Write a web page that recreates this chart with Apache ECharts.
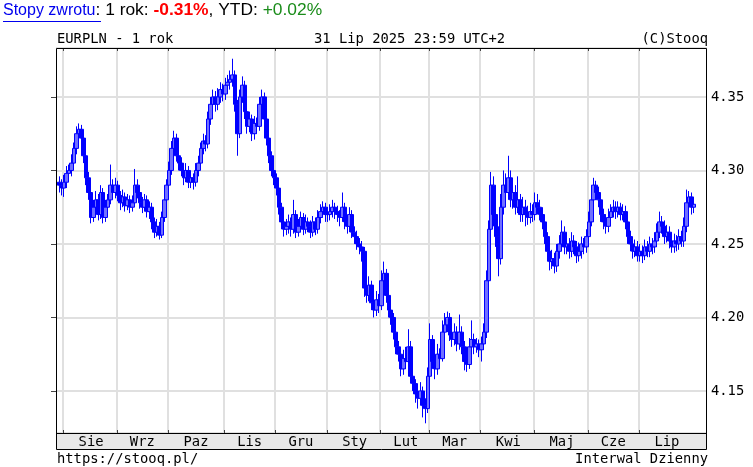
<!DOCTYPE html>
<html><head><meta charset="utf-8">
<script src="https://cdn.jsdelivr.net/npm/echarts@6/dist/echarts.min.js"></script>
<style>html,body{margin:0;padding:0;background:#fff}#c{width:753px;height:467px}</style>
</head><body><div id="c"></div>
<script>
// Month names (Polish abbreviations) and number of trading days per month in the window
const monthNames = ['Lip','Sie','Wrz','Paz','Lis','Gru','Sty','Lut','Mar','Kwi','Maj','Cze','Lip'];
const monthDays  = [2,22,21,23,21,21,22,20,21,22,22,21,23];

const openV = [
4.292,4.290,4.288,4.292,4.298,4.300,4.305,4.315,4.325,4.328,
4.322,4.310,4.295,4.285,4.268,4.275,4.280,4.270,4.285,4.268,
4.275,4.280,4.290,4.285,4.290,4.283,4.278,4.282,4.276,4.280,
4.275,4.278,4.290,4.285,4.278,4.275,4.280,4.272,4.275,4.265,
4.258,4.262,4.256,4.268,4.280,4.290,4.300,4.315,4.322,4.310,
4.305,4.300,4.295,4.300,4.292,4.295,4.292,4.300,4.305,4.315,
4.320,4.318,4.335,4.345,4.350,4.345,4.350,4.355,4.352,4.358,
4.360,4.362,4.365,4.345,4.325,4.350,4.358,4.340,4.330,4.335,
4.325,4.332,4.330,4.345,4.350,4.335,4.322,4.310,4.300,4.295,
4.288,4.275,4.265,4.260,4.262,4.265,4.260,4.270,4.258,4.262,
4.268,4.260,4.265,4.262,4.258,4.265,4.260,4.268,4.272,4.275,
4.270,4.270,4.272,4.275,4.272,4.270,4.268,4.275,4.265,4.262,
4.270,4.258,4.255,4.250,4.248,4.245,4.220,4.215,4.222,4.210,
4.205,4.212,4.208,4.225,4.230,4.215,4.205,4.200,4.190,4.180,
4.175,4.165,4.172,4.170,4.180,4.160,4.155,4.148,4.145,4.150,
4.140,4.138,4.160,4.185,4.170,4.165,4.175,4.172,4.190,4.195,
4.200,4.188,4.185,4.190,4.182,4.190,4.180,4.170,4.168,4.180,
4.185,4.180,4.182,4.178,4.182,4.190,4.225,4.260,4.290,4.270,
4.255,4.240,4.275,4.290,4.285,4.295,4.280,4.285,4.275,4.280,
4.270,4.275,4.270,4.268,4.272,4.270,4.278,4.275,4.270,4.265,
4.255,4.245,4.238,4.240,4.235,4.245,4.250,4.258,4.248,4.250,
4.245,4.252,4.248,4.242,4.245,4.250,4.248,4.255,4.265,4.280,
4.290,4.285,4.280,4.270,4.265,4.262,4.268,4.272,4.275,4.272,
4.275,4.270,4.272,4.265,4.255,4.250,4.245,4.248,4.242,4.245,
4.242,4.248,4.245,4.250,4.248,4.252,4.258,4.265,4.262,4.255,
4.258,4.252,4.248,4.252,4.250,4.255,4.252,4.262,4.278,4.282,
4.275];

const closeV = [
4.290,4.288,4.292,4.298,4.300,4.305,4.315,4.325,4.328,4.322,
4.310,4.295,4.285,4.268,4.275,4.280,4.270,4.285,4.268,4.275,
4.280,4.290,4.285,4.290,4.283,4.278,4.282,4.276,4.280,4.275,
4.278,4.290,4.285,4.278,4.275,4.280,4.272,4.275,4.265,4.258,
4.262,4.256,4.268,4.280,4.290,4.300,4.315,4.322,4.310,4.305,
4.300,4.295,4.300,4.292,4.295,4.292,4.300,4.305,4.315,4.320,
4.318,4.335,4.345,4.350,4.345,4.350,4.355,4.352,4.358,4.360,
4.362,4.365,4.345,4.325,4.350,4.358,4.340,4.330,4.335,4.325,
4.332,4.330,4.345,4.350,4.335,4.322,4.310,4.300,4.295,4.288,
4.275,4.265,4.260,4.262,4.265,4.260,4.270,4.258,4.262,4.268,
4.260,4.265,4.262,4.258,4.265,4.260,4.268,4.272,4.275,4.270,
4.270,4.272,4.275,4.272,4.270,4.268,4.275,4.265,4.262,4.270,
4.258,4.255,4.250,4.248,4.245,4.220,4.215,4.222,4.210,4.205,
4.212,4.208,4.225,4.230,4.215,4.205,4.200,4.190,4.180,4.175,
4.165,4.172,4.170,4.180,4.160,4.155,4.148,4.145,4.150,4.140,
4.138,4.160,4.185,4.170,4.165,4.175,4.172,4.190,4.195,4.200,
4.188,4.185,4.190,4.182,4.190,4.180,4.170,4.168,4.180,4.185,
4.180,4.182,4.178,4.182,4.190,4.225,4.260,4.290,4.270,4.255,
4.240,4.275,4.290,4.285,4.295,4.280,4.285,4.275,4.280,4.270,
4.275,4.270,4.268,4.272,4.270,4.278,4.275,4.270,4.265,4.255,
4.245,4.238,4.240,4.235,4.245,4.250,4.258,4.248,4.250,4.245,
4.252,4.248,4.242,4.245,4.250,4.248,4.255,4.265,4.280,4.290,
4.285,4.280,4.270,4.265,4.262,4.268,4.272,4.275,4.272,4.275,
4.270,4.272,4.265,4.255,4.250,4.245,4.248,4.242,4.245,4.242,
4.248,4.245,4.250,4.248,4.252,4.258,4.265,4.262,4.255,4.258,
4.252,4.248,4.252,4.250,4.255,4.252,4.262,4.278,4.282,4.275,
4.277];

const lowV = [
4.285,4.283,4.282,4.288,4.294,4.296,4.301,4.311,4.320,4.317,
4.305,4.290,4.280,4.264,4.265,4.271,4.266,4.267,4.264,4.265,
4.271,4.277,4.281,4.281,4.279,4.273,4.275,4.272,4.273,4.271,
4.272,4.276,4.281,4.274,4.271,4.272,4.268,4.267,4.260,4.254,
4.255,4.253,4.254,4.265,4.277,4.287,4.297,4.311,4.306,4.300,
4.296,4.290,4.292,4.288,4.288,4.287,4.289,4.296,4.301,4.311,
4.313,4.315,4.331,4.341,4.340,4.341,4.346,4.347,4.348,4.353,
4.355,4.357,4.340,4.310,4.322,4.346,4.335,4.325,4.326,4.320,
4.321,4.325,4.327,4.341,4.331,4.317,4.305,4.296,4.290,4.283,
4.270,4.260,4.255,4.256,4.257,4.255,4.257,4.254,4.255,4.258,
4.256,4.257,4.258,4.254,4.255,4.256,4.257,4.264,4.268,4.265,
4.265,4.266,4.268,4.267,4.265,4.262,4.265,4.260,4.257,4.258,
4.254,4.250,4.246,4.243,4.238,4.214,4.210,4.211,4.205,4.200,
4.201,4.203,4.205,4.221,4.210,4.200,4.195,4.185,4.175,4.170,
4.160,4.161,4.165,4.166,4.155,4.150,4.142,4.138,4.140,4.132,
4.128,4.135,4.156,4.165,4.158,4.161,4.166,4.170,4.186,4.190,
4.184,4.180,4.181,4.177,4.178,4.175,4.164,4.163,4.165,4.176,
4.175,4.176,4.173,4.170,4.178,4.186,4.220,4.255,4.262,4.248,
4.228,4.236,4.270,4.278,4.280,4.275,4.274,4.270,4.271,4.265,
4.265,4.262,4.263,4.264,4.265,4.266,4.270,4.266,4.260,4.250,
4.238,4.232,4.233,4.230,4.231,4.240,4.246,4.243,4.243,4.240,
4.241,4.243,4.237,4.238,4.240,4.243,4.244,4.251,4.262,4.276,
4.280,4.275,4.265,4.260,4.257,4.258,4.264,4.268,4.267,4.268,
4.266,4.266,4.260,4.250,4.245,4.240,4.241,4.238,4.238,4.237,
4.239,4.241,4.241,4.243,4.244,4.248,4.254,4.257,4.250,4.251,
4.247,4.244,4.244,4.245,4.246,4.248,4.248,4.258,4.272,4.270,
4.271];

const highV = [
4.296,4.294,4.297,4.303,4.304,4.311,4.319,4.330,4.332,4.331,
4.326,4.313,4.299,4.288,4.280,4.286,4.284,4.290,4.288,4.280,
4.284,4.304,4.294,4.295,4.293,4.286,4.287,4.285,4.284,4.283,
4.283,4.301,4.294,4.288,4.282,4.284,4.283,4.279,4.278,4.268,
4.267,4.265,4.272,4.285,4.294,4.306,4.320,4.327,4.325,4.314,
4.309,4.304,4.305,4.303,4.299,4.298,4.305,4.310,4.319,4.325,
4.324,4.340,4.350,4.355,4.354,4.356,4.360,4.359,4.363,4.365,
4.368,4.376,4.368,4.348,4.355,4.364,4.361,4.344,4.340,4.338,
4.337,4.336,4.350,4.355,4.353,4.338,4.326,4.313,4.304,4.298,
4.291,4.278,4.268,4.267,4.270,4.268,4.280,4.273,4.267,4.272,
4.271,4.270,4.268,4.266,4.269,4.268,4.273,4.277,4.279,4.278,
4.275,4.277,4.280,4.278,4.276,4.273,4.285,4.278,4.269,4.275,
4.273,4.262,4.259,4.254,4.252,4.248,4.225,4.228,4.225,4.215,
4.218,4.216,4.232,4.238,4.233,4.218,4.209,4.203,4.194,4.184,
4.178,4.178,4.180,4.192,4.184,4.165,4.158,4.152,4.156,4.153,
4.145,4.166,4.196,4.188,4.175,4.182,4.179,4.198,4.203,4.204,
4.203,4.193,4.196,4.194,4.202,4.194,4.184,4.176,4.186,4.198,
4.189,4.186,4.185,4.187,4.196,4.232,4.266,4.299,4.296,4.285,
4.262,4.284,4.300,4.298,4.310,4.300,4.292,4.290,4.296,4.284,
4.282,4.280,4.276,4.278,4.277,4.285,4.284,4.280,4.275,4.268,
4.258,4.249,4.246,4.244,4.250,4.256,4.266,4.262,4.256,4.254,
4.258,4.256,4.252,4.251,4.255,4.254,4.260,4.272,4.286,4.295,
4.293,4.289,4.284,4.274,4.270,4.274,4.277,4.280,4.279,4.279,
4.278,4.277,4.276,4.268,4.259,4.254,4.253,4.252,4.250,4.249,
4.253,4.252,4.255,4.254,4.258,4.264,4.272,4.269,4.266,4.263,
4.262,4.256,4.257,4.256,4.260,4.259,4.268,4.287,4.286,4.285,
4.281];

const yMin = 4.1214, yMax = 4.3833;

// ---- build tables for the library ----
const categories = [];
const monthStart = [];
const monthMid = new Set();
let idx = 0;
monthNames.forEach((m, k) => {
  if (k > 0) { monthStart.push(idx); monthMid.add(idx + Math.floor(monthDays[k] / 2)); }
  for (let d = 0; d < monthDays[k]; d++) categories.push(m + '|' + k + '-' + d);
  idx += monthDays[k];
});
const ohlc = closeV.map((c, i) => [openV[i], c, lowV[i], highV[i]]);

const MONO = "'DejaVu Sans Mono', monospace";
const FS = 13.8;
const SANS = "'Liberation Sans', Arial, sans-serif";

const chart = echarts.init(document.getElementById('c'), null, {renderer: 'canvas'});
chart.setOption({
  animation: false,
  backgroundColor: '#fff',
  grid: [
    {left: 56, right: 46, top: 48, bottom: 34},
    {left: 58.1, right: 58, top: 48, bottom: 34}
  ],
  xAxis: [
    {gridIndex: 0, type: 'value', min: 0, max: 1, show: false},
    {gridIndex: 1, type: 'category', data: categories, boundaryGap: true, position: 'bottom',
      axisLine: {show: false},
      axisTick: {show: false},
      axisLabel: {show: true, interval: (i) => monthMid.has(i), formatter: (v) => v.split('|')[0],
        color: '#000', fontFamily: MONO, fontSize: FS, margin: 2},
      splitLine: {show: false}
    }
  ],
  yAxis: [
    {gridIndex: 0, type: 'value', position: 'right', min: yMin, max: yMax, splitNumber: 5,
      axisLine: {show: false},
      axisTick: {show: true, inside: true, length: 5, lineStyle: {color: '#444'}},
      axisLabel: {color: '#000', fontFamily: MONO, fontSize: FS, margin: 4, showMinLabel: false, showMaxLabel: false,
        formatter: (v) => v.toFixed(2)},
      splitLine: {show: true, lineStyle: {color: '#e0e0e0', width: 2}}
    },
    {gridIndex: 1, type: 'value', min: yMin, max: yMax, show: false}
  ],
  series: [
    {
      // month boundary grid lines + ticks, placed through the category scale
      type: 'custom', xAxisIndex: 1, yAxisIndex: 1, z: 1, silent: true,
      data: monthStart.map(i => [i, yMax]),
      renderItem: function (params, api) {
        const cs = params.coordSys;
        const c = api.coord([api.value(0), api.value(1)]);
        const w = api.size([1, 0])[0];
        const x = Math.round(c[0] - w / 2);
        const top = cs.y, bot = cs.y + cs.height;
        return {type: 'group', children: [
          {type: 'line', shape: {x1: x, y1: top, x2: x, y2: bot}, style: {stroke: '#e0e0e0', lineWidth: 2}},
          {type: 'line', z2: 10, shape: {x1: x + 0.5, y1: top, x2: x + 0.5, y2: top + 3}, style: {stroke: '#444', lineWidth: 1}},
          {type: 'line', z2: 10, shape: {x1: x + 0.5, y1: bot - 3, x2: x + 0.5, y2: bot}, style: {stroke: '#444', lineWidth: 1}}
        ]};
      }
    },
    {
      type: 'candlestick', xAxisIndex: 1, yAxisIndex: 1, data: ohlc, z: 2,
      barWidth: 4,
      itemStyle: {color: '#7070ff', color0: '#0000ff', borderColor: '#0000ff', borderColor0: '#0000ff', borderWidth: 1}
    }
  ],
  graphic: [
    {type: 'rect', z: -10, shape: {x: 56, y: 433, width: 651, height: 17}, style: {fill: '#e8e8e8'}},
    {type: 'rect', z: 100, shape: {x: 56.5, y: 48.5, width: 650, height: 401}, style: {fill: 'none', stroke: '#000', lineWidth: 1}},
    {type: 'line', z: 100, shape: {x1: 56, y1: 433.5, x2: 707, y2: 433.5}, style: {stroke: '#000', lineWidth: 1}},
    {type: 'text', left: 3, top: 2, style: {
      text: '{a|Stopy zwrotu}{b|: 1 rok: }{r|-0.31%}{b|, YTD: }{g|+0.02%}',
      rich: {
        a: {fill: '#0000ee', fontFamily: SANS, fontSize: 16},
        b: {fill: '#000', fontFamily: SANS, fontSize: 17.4},
        r: {fill: '#ff0000', fontFamily: SANS, fontSize: 17.4, fontWeight: 'bold'},
        g: {fill: '#1a8c1a', fontFamily: SANS, fontSize: 17.4}
      }}},
    {type: 'line', shape: {x1: 3, y1: 21.5, x2: 101, y2: 21.5}, style: {stroke: '#0000ee', lineWidth: 1}},
    {type: 'text', x: 57, y: 39.5, style: {text: 'EURPLN - 1 rok', fill: '#000', font: FS + 'px ' + MONO, textVerticalAlign: 'middle'}},
    {type: 'text', x: 314, y: 39.5, style: {text: '31 Lip 2025 23:59 UTC+2', fill: '#000', font: FS + 'px ' + MONO, textVerticalAlign: 'middle'}},
    {type: 'text', x: 708, y: 39.5, style: {text: '(C)Stooq', fill: '#000', font: FS + 'px ' + MONO, textAlign: 'right', textVerticalAlign: 'middle'}},
    {type: 'text', x: 57, y: 459, style: {text: 'https://stooq.pl/', fill: '#000', font: FS + 'px ' + MONO, textVerticalAlign: 'middle'}},
    {type: 'text', x: 708, y: 459, style: {text: 'Interwal Dzienny', fill: '#000', font: FS + 'px ' + MONO, textAlign: 'right', textVerticalAlign: 'middle'}}
  ]
});
</script>
</body></html>
